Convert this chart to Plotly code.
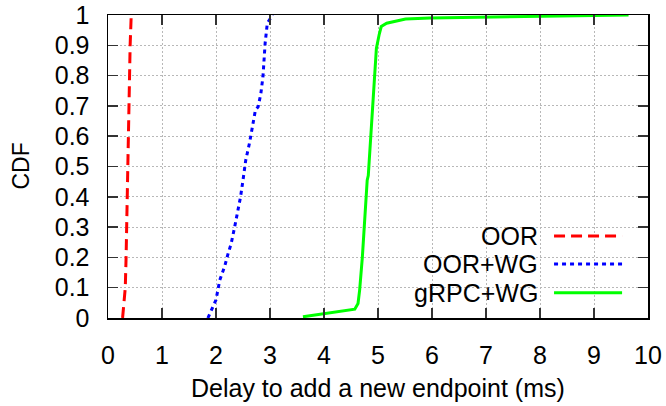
import plotly.graph_objects as go

# ---- data ----
oor_x = [0.27, 0.29, 0.32, 0.335, 0.345, 0.355, 0.367, 0.378, 0.39, 0.40, 0.41, 0.43]
oor_y = [0.0, 0.04, 0.1, 0.2, 0.3, 0.4, 0.5, 0.6, 0.7, 0.8, 0.9, 1.0]

wg_x = [1.85, 2.0, 2.07, 2.16, 2.22, 2.28, 2.345, 2.41, 2.455, 2.50, 2.55, 2.62, 2.68,
        2.73, 2.78, 2.83, 2.87, 2.89, 2.91, 2.95, 3.05]
wg_y = [0.0, 0.06, 0.125, 0.17, 0.21, 0.245, 0.30, 0.356, 0.40, 0.455, 0.52, 0.577, 0.643,
        0.686, 0.697, 0.74, 0.797, 0.85, 0.907, 0.973, 1.0]

grpc_x = [3.61, 4.57, 4.63, 4.66, 4.71, 4.75, 4.80, 4.82, 4.86, 4.90, 4.94, 4.97, 5.02,
          5.06, 5.16, 5.46, 5.51, 5.96, 9.64]
grpc_y = [0.004, 0.029, 0.048, 0.092, 0.20, 0.31, 0.455, 0.47, 0.59, 0.70, 0.81, 0.89, 0.934,
          0.962, 0.973, 0.984, 0.987, 0.99, 1.0]

series_names = ["OOR", "OOR+WG", "gRPC+WG"]
x_ticks = [0, 1, 2, 3, 4, 5, 6, 7, 8, 9, 10]
y_ticks = [0, 0.1, 0.2, 0.3, 0.4, 0.5, 0.6, 0.7, 0.8, 0.9, 1]
y_tick_text = ["0", "0.1", "0.2", "0.3", "0.4", "0.5", "0.6", "0.7", "0.8", "0.9", "1"]

FONT = "Liberation Sans, Arial, sans-serif"
FS = 25
colors = ["#ff0000", "#0000ff", "#00ff00"]
dashes = ["11px,6px", "4px,4px", "solid"]

fig = go.Figure()
for xs, ys, name, c, d in zip([oor_x, wg_x, grpc_x], [oor_y, wg_y, grpc_y],
                               series_names, colors, dashes):
    fig.add_trace(go.Scatter(x=xs, y=ys, mode="lines", name=name,
                             line=dict(color=c, width=3, dash=d),
                             showlegend=False, hoverinfo="skip"))

axis_common = dict(
    automargin=False,
    showline=True, linecolor="black", linewidth=1.5, mirror="ticks",
    ticks="inside", ticklen=10, tickwidth=1.5, tickcolor="#333333",
    showgrid=True, gridcolor="#b8b8b8", gridwidth=1, griddash="2px,2px",
    zeroline=False, tickfont=dict(family=FONT, size=FS, color="black"),
)

fig.update_xaxes(range=[0, 10], tickvals=x_ticks, ticklabelstandoff=14, **axis_common)
fig.update_yaxes(range=[0, 1], tickvals=y_ticks, ticktext=y_tick_text,
                 ticklabelstandoff=12, **axis_common)

# legend (gnuplot style: text left, sample right) with opaque key box
fig.add_shape(type="rect", xref="paper", yref="paper", x0=0.57, x1=0.995, y0=0.06, y1=0.31,
              fillcolor="white", line=dict(width=0), layer="between")
leg_y = [0.271, 0.178, 0.083]
for name, c, d, ly in zip(series_names, colors, dashes, leg_y):
    fig.add_annotation(x=0.80, y=ly, xref="paper", yref="paper", text=name,
                       showarrow=False, xanchor="right", yanchor="middle",
                       font=dict(family=FONT, size=FS, color="black"))
    fig.add_shape(type="line", xref="paper", yref="paper", x0=0.826, x1=0.952, y0=ly, y1=ly,
                  line=dict(color=c, width=3, dash=d))

fig.add_annotation(x=0.5, y=0, xref="paper", yref="paper", yshift=-70,
                   text="Delay to add a new endpoint (ms)", showarrow=False,
                   yanchor="middle", font=dict(family=FONT, size=FS, color="black"))
fig.add_annotation(x=0, y=0.5, xref="paper", yref="paper", xshift=-88,
                   text="CDF", showarrow=False, textangle=-90,
                   xanchor="center", font=dict(family=FONT, size=23, color="black"))

fig.update_layout(
    width=666, height=406,
    margin=dict(l=108, r=18, t=15, b=88),
    plot_bgcolor="white", paper_bgcolor="white",
    font=dict(family=FONT, size=FS, color="black"),
)

fig.write_html("out.html", config={"displayModeBar": False, "staticPlot": True},
               post_script="document.body.style.margin='0';document.body.style.padding='0';"
                           "document.body.style.overflow='hidden';")
